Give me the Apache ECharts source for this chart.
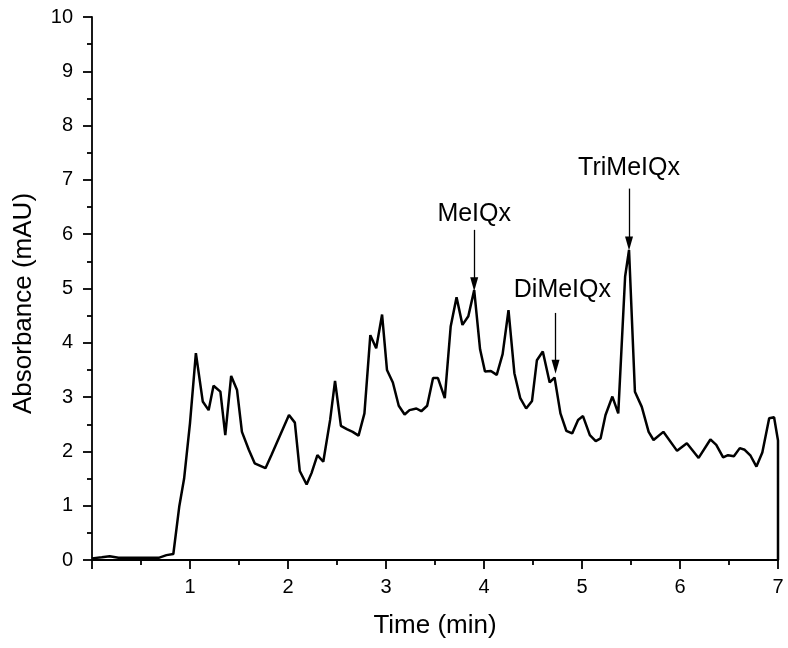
<!DOCTYPE html>
<html>
<head>
<meta charset="utf-8">
<script src="https://cdn.jsdelivr.net/npm/echarts@6/dist/echarts.min.js"></script>
<style>html,body{margin:0;padding:0;background:#fff}#c{width:788px;height:648px}</style>
</head>
<body>
<div id="c"></div>
<script>
const times = [0, 0.1, 0.18, 0.27, 0.4, 0.55, 0.68, 0.76, 0.83, 0.89, 0.94, 1.0, 1.06, 1.13, 1.19, 1.24, 1.31, 1.36, 1.42, 1.48, 1.53, 1.6, 1.66, 1.77, 1.83, 2.01, 2.07, 2.12, 2.19, 2.24, 2.3, 2.36, 2.43, 2.48, 2.54, 2.6, 2.66, 2.72, 2.78, 2.84, 2.9, 2.96, 3.01, 3.07, 3.13, 3.19, 3.24, 3.31, 3.36, 3.42, 3.48, 3.53, 3.6, 3.66, 3.72, 3.78, 3.84, 3.9, 3.96, 4.01, 4.07, 4.13, 4.19, 4.25, 4.31, 4.37, 4.43, 4.49, 4.54, 4.6, 4.67, 4.72, 4.78, 4.84, 4.9, 4.96, 5.01, 5.08, 5.14, 5.19, 5.24, 5.31, 5.37, 5.44, 5.48, 5.54, 5.61, 5.68, 5.73, 5.83, 5.97, 6.07, 6.19, 6.31, 6.37, 6.44, 6.49, 6.55, 6.61, 6.66, 6.72, 6.78, 6.84, 6.91, 6.96, 7.0, 7.0];
const absorbance = [0.03, 0.05, 0.07, 0.04, 0.04, 0.04, 0.04, 0.09, 0.11, 0.98, 1.5, 2.52, 3.81, 2.92, 2.76, 3.21, 3.1, 2.3, 3.39, 3.13, 2.36, 2.03, 1.78, 1.69, 1.93, 2.67, 2.53, 1.64, 1.39, 1.6, 1.93, 1.81, 2.58, 3.3, 2.47, 2.41, 2.36, 2.29, 2.7, 4.14, 3.9, 4.52, 3.5, 3.27, 2.84, 2.68, 2.76, 2.79, 2.74, 2.84, 3.35, 3.35, 2.98, 4.3, 4.84, 4.33, 4.49, 4.97, 3.88, 3.47, 3.48, 3.41, 3.79, 4.6, 3.44, 2.98, 2.79, 2.93, 3.68, 3.84, 3.27, 3.36, 2.7, 2.38, 2.33, 2.58, 2.65, 2.3, 2.19, 2.24, 2.67, 3.01, 2.7, 5.22, 5.71, 3.1, 2.82, 2.36, 2.21, 2.36, 2.01, 2.15, 1.88, 2.22, 2.12, 1.89, 1.93, 1.91, 2.06, 2.03, 1.92, 1.72, 1.98, 2.61, 2.63, 2.2, 0];

const annNames = ['MeIQx', 'DiMeIQx', 'TriMeIQx'];
const annX = [3.9, 4.73, 5.48];
const annTail = [6.08, 4.55, 6.84];
const annTip = [5.08, 3.56, 5.83];
const annTextX = [3.9, 4.8, 5.48];
const annTextY = [6.37, 4.97, 7.22];

const xTicks = [1, 2, 3, 4, 5, 6, 7];

const lineData = times.map((t, i) => [t, absorbance[i]]);
const arrowLines = annX.map((x, i) => [
  { coord: [x, annTail[i]], symbol: 'none' },
  { coord: [x, annTip[i]], symbol: 'triangle', symbolSize: [8, 14] }
]);
const labelData = annNames.map((n, i) => ({ value: [annTextX[i], annTextY[i]], name: n }));

const font = 'Liberation Sans, Arial, sans-serif';
const chart = echarts.init(document.getElementById('c'), null, { renderer: 'canvas' });
chart.setOption({
  animation: false,
  backgroundColor: '#fff',
  grid: { left: 92, right: 10, top: 17, bottom: 88, containLabel: false },
  xAxis: {
    type: 'value', min: 0, max: 7, interval: 1,
    name: 'Time (min)', nameLocation: 'middle', nameGap: 53,
    nameTextStyle: { fontFamily: font, fontSize: 26, color: '#000' },
    axisLine: { lineStyle: { color: '#000', width: 1.8 } },
    axisTick: { show: true, inside: false, length: 9, lineStyle: { color: '#000', width: 1.8 } },
    minorTick: { show: true, splitNumber: 2, length: 5, lineStyle: { color: '#000', width: 1.8 } },
    axisLabel: { fontFamily: font, fontSize: 20, color: '#000', margin: 17,
      formatter: v => (xTicks.indexOf(v) >= 0 ? String(v) : '') },
    splitLine: { show: false }
  },
  yAxis: {
    type: 'value', min: 0, max: 10, interval: 1,
    name: 'Absorbance (mAU)', nameLocation: 'middle', nameGap: 55, nameRotate: 90,
    nameTextStyle: { fontFamily: font, fontSize: 26, color: '#000', padding: [0, 30, 0, 0] },
    axisLine: { show: true, lineStyle: { color: '#000', width: 1.8 } },
    axisTick: { show: true, inside: false, length: 9, lineStyle: { color: '#000', width: 1.8 } },
    minorTick: { show: true, splitNumber: 2, length: 5, lineStyle: { color: '#000', width: 1.8 } },
    axisLabel: { fontFamily: font, fontSize: 20, color: '#000', margin: 19 },
    splitLine: { show: false }
  },
  series: [
    {
      type: 'line', data: lineData, showSymbol: false, symbol: 'none',
      lineStyle: { color: '#000', width: 2.5 },
      markLine: {
        silent: true, animation: false,
        lineStyle: { color: '#000', width: 1.3, type: 'solid' },
        itemStyle: { color: '#000' },
        label: { show: false },
        data: arrowLines
      }
    },
    {
      type: 'scatter', data: labelData, symbolSize: 0, silent: true,
      itemStyle: { opacity: 1, color: '#000' },
      label: { show: true, position: 'inside', formatter: p => p.name, opacity: 1,
        fontFamily: font, fontSize: 25, color: '#000' }
    }
  ]
});
</script>
</body>
</html>
